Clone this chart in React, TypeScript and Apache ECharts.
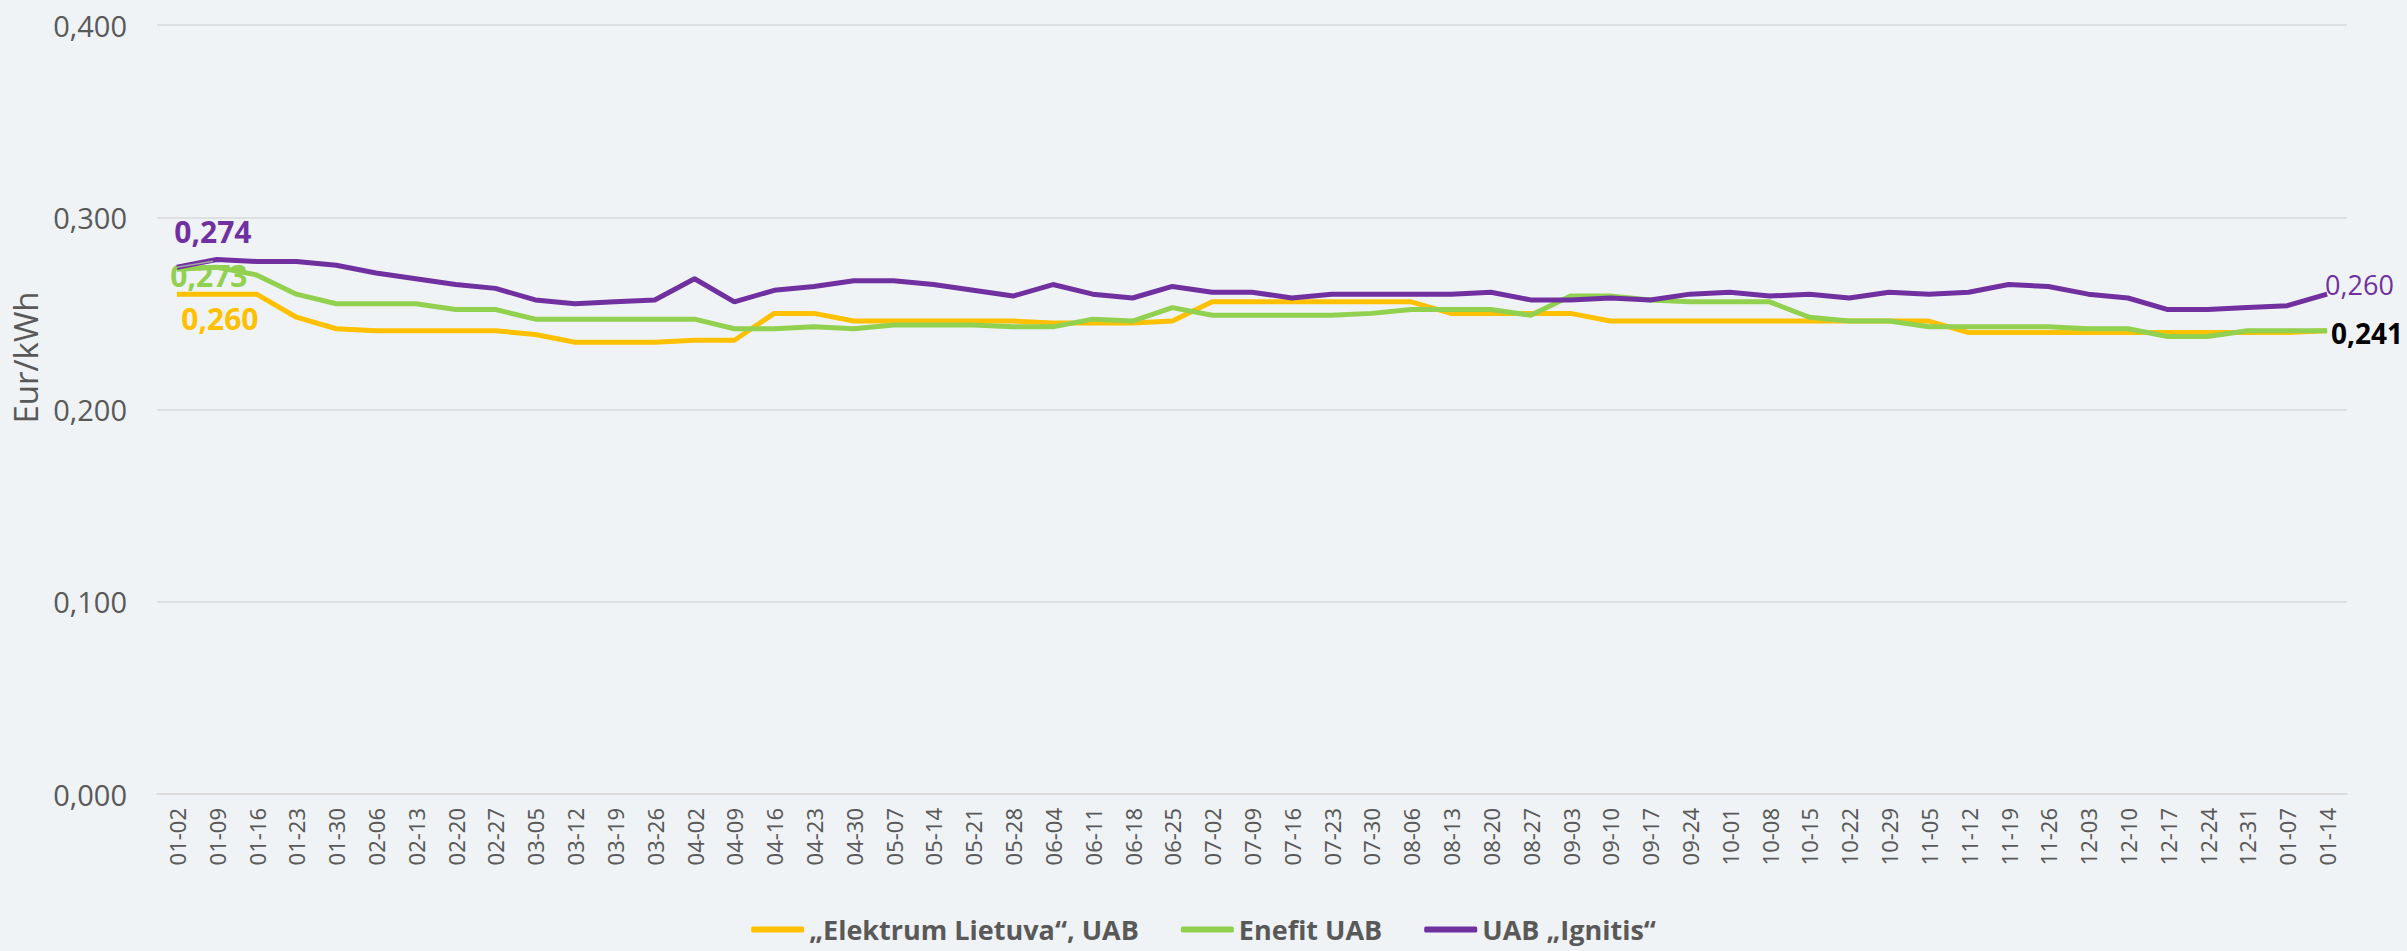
import React, { useEffect, useRef } from "react";
import * as echarts from "echarts";

const categories = [
  "01-02", "01-09", "01-16", "01-23", "01-30", "02-06", "02-13", "02-20", "02-27",
  "03-05", "03-12", "03-19", "03-26", "04-02", "04-09", "04-16", "04-23", "04-30",
  "05-07", "05-14", "05-21", "05-28", "06-04", "06-11", "06-18", "06-25", "07-02",
  "07-09", "07-16", "07-23", "07-30", "08-06", "08-13", "08-20", "08-27", "09-03",
  "09-10", "09-17", "09-24", "10-01", "10-08", "10-15", "10-22", "10-29", "11-05",
  "11-12", "11-19", "11-26", "12-03", "12-10", "12-17", "12-24", "12-31", "01-07", "01-14",
];

const elektrum = [
  0.260, 0.260, 0.260, 0.248, 0.242, 0.241, 0.241, 0.241, 0.241, 0.239, 0.235, 0.235,
  0.235, 0.236, 0.236, 0.250, 0.250, 0.246, 0.246, 0.246, 0.246, 0.246, 0.245, 0.245,
  0.245, 0.246, 0.256, 0.256, 0.256, 0.256, 0.256, 0.256, 0.250, 0.250, 0.250, 0.250,
  0.246, 0.246, 0.246, 0.246, 0.246, 0.246, 0.246, 0.246, 0.246, 0.240, 0.240, 0.240,
  0.240, 0.240, 0.240, 0.240, 0.240, 0.240, 0.241,
];

const enefit = [
  0.273, 0.274, 0.270, 0.260, 0.255, 0.255, 0.255, 0.252, 0.252, 0.247, 0.247, 0.247,
  0.247, 0.247, 0.242, 0.242, 0.243, 0.242, 0.244, 0.244, 0.244, 0.243, 0.243, 0.247,
  0.246, 0.253, 0.249, 0.249, 0.249, 0.249, 0.250, 0.252, 0.252, 0.252, 0.249, 0.259,
  0.259, 0.257, 0.256, 0.256, 0.256, 0.248, 0.246, 0.246, 0.243, 0.243, 0.243, 0.243,
  0.242, 0.242, 0.238, 0.238, 0.241, 0.241, 0.241,
];

const ignitis = [
  0.274, 0.278, 0.277, 0.277, 0.275, 0.271, 0.268, 0.265, 0.263, 0.257, 0.255, 0.256,
  0.257, 0.268, 0.256, 0.262, 0.264, 0.267, 0.267, 0.265, 0.262, 0.259, 0.265, 0.260,
  0.258, 0.264, 0.261, 0.261, 0.258, 0.260, 0.260, 0.260, 0.260, 0.261, 0.257, 0.257,
  0.258, 0.257, 0.260, 0.261, 0.259, 0.260, 0.258, 0.261, 0.260, 0.261, 0.265, 0.264,
  0.260, 0.258, 0.252, 0.252, 0.253, 0.254, 0.260,
];

const seriesNames = ["„Elektrum Lietuva“, UAB", "Enefit UAB", "UAB „Ignitis“"];
const seriesColors = ["#FFC000", "#92D050", "#7030A0"];

export default function App() {
  const ref = useRef<HTMLDivElement>(null);

  useEffect(() => {
    if (!ref.current) return;
    const chart = echarts.init(ref.current, null, { renderer: "svg" });
    const fmt = (v: number) => v.toFixed(3).replace(".", ",");
    const narrow = "'Liberation Sans Narrow', 'Open Sans', sans-serif";
    const last = categories.length - 1;

    const baseLabel = {
      show: true,
      fontFamily: narrow,
      fontSize: 30,
      fontWeight: "bold" as const,
      formatter: (p: any) => fmt(p.value),
    };

    const elektrumData = elektrum.map((v, i) =>
      i === 0
        ? { value: v, label: { ...baseLabel, color: seriesColors[0], position: "bottom", offset: [43, 4] } }
        : v
    );
    const enefitData = enefit.map((v, i) => {
      if (i === 0)
        return { value: v, label: { ...baseLabel, color: seriesColors[1], position: "bottom", offset: [32, -14] } };
      if (i === last)
        return {
          value: v,
          label: { ...baseLabel, fontSize: 28, color: "#000000", position: "right", distance: 4, offset: [0, 2] },
        };
      return v;
    });
    const ignitisData = ignitis.map((v, i) => {
      if (i === 0)
        return {
          value: v,
          label: { ...baseLabel, color: seriesColors[2], position: "top", offset: [36, -16] },
          labelLine: { show: true, lineStyle: { color: "#A6A6A6", width: 1.5 } },
        };
      if (i === last)
        return {
          value: v,
          label: {
            ...baseLabel,
            fontSize: 27,
            fontWeight: "normal",
            color: seriesColors[2],
            position: "right",
            distance: 0,
            offset: [-2, -10],
          },
        };
      return v;
    });

    const mk = (idx: number, data: any[]) => ({
      name: seriesNames[idx],
      type: "line",
      data,
      showSymbol: true,
      symbol: "circle",
      symbolSize: 0,
      lineStyle: { color: seriesColors[idx], width: 5 },
      itemStyle: { color: seriesColors[idx] },
      label: { show: false },
      emphasis: { disabled: true },
      z: 2 + idx,
    });

    chart.setOption({
      animation: false,
      backgroundColor: "#EFF3F6",
      grid: {
        left: 157,
        right: 60,
        top: 25,
        bottom: 157,
        containLabel: false,
        outerBoundsMode: "none",
      },
      legend: {
        top: 911,
        left: "center",
        itemWidth: 53,
        itemHeight: 6,
        itemGap: 42,
        icon: "roundRect",
        textStyle: { fontFamily: narrow, fontSize: 27, fontWeight: "bold", color: "#595959" },
        data: seriesNames,
      },
      xAxis: {
        type: "category",
        data: categories,
        boundaryGap: true,
        axisLine: { show: true, lineStyle: { color: "#D9D9D9", width: 1.5 } },
        axisTick: { show: false },
        axisLabel: {
          rotate: 90,
          interval: 0,
          margin: 14,
          color: "#595959",
          fontSize: 22,
          fontFamily: "'Noto Sans', sans-serif",
        },
      },
      yAxis: {
        type: "value",
        min: 0,
        max: 0.4,
        interval: 0.1,
        name: "Eur/kWh",
        nameLocation: "middle",
        nameRotate: 90,
        nameGap: 106,
        nameTextStyle: {
          color: "#595959",
          fontSize: 33,
          fontFamily: "'Open Sans', sans-serif",
          padding: [0, 0, 0, 104],
        },
        axisLine: { show: false },
        axisTick: { show: false },
        splitLine: { lineStyle: { color: "#D9D9D9", width: 1.5 } },
        axisLabel: {
          margin: 30,
          color: "#595959",
          fontSize: 29,
          fontFamily: "'Open Sans', sans-serif",
          formatter: (v: number) => fmt(v),
        },
      },
      series: [mk(0, elektrumData), mk(1, enefitData), mk(2, ignitisData)],
    });

    return () => chart.dispose();
  }, []);

  return (
    <div
      ref={ref}
      style={{ position: "fixed", left: 0, top: 0, width: 2407, height: 951 }}
    />
  );
}
